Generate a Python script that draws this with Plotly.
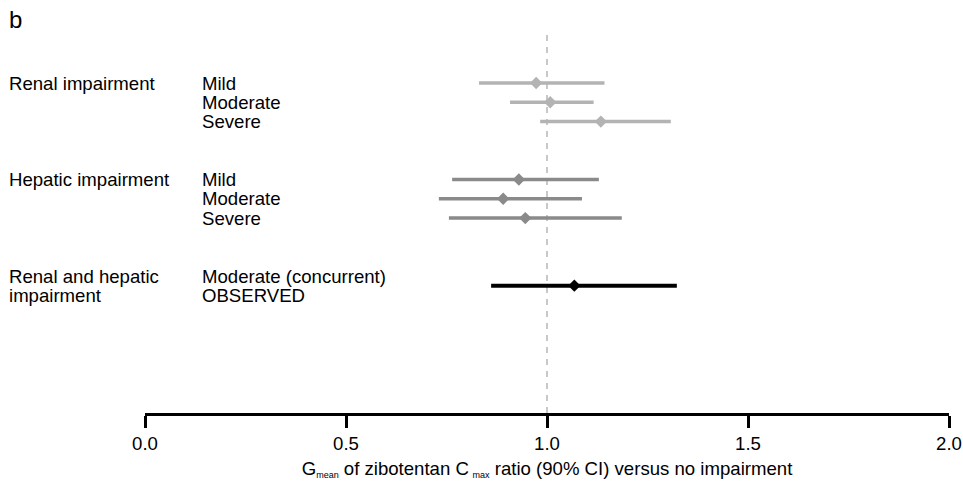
import plotly.graph_objects as go
import numpy as np

# ---- data ----
group_labels = ["Renal impairment", "Hepatic impairment", "Renal and hepatic|impairment"]
renal_rows = ["Mild", "Moderate", "Severe"]
hepatic_rows = ["Mild", "Moderate", "Severe"]
combined_rows = ["Moderate (concurrent)", "OBSERVED"]

renal_est = [0.973, 1.008, 1.134]
renal_lo = [0.831, 0.908, 0.983]
renal_hi = [1.143, 1.116, 1.308]

hepatic_est = [0.930, 0.891, 0.946]
hepatic_lo = [0.764, 0.731, 0.756]
hepatic_hi = [1.129, 1.087, 1.186]

combined_est = [1.068]
combined_lo = [0.861]
combined_hi = [1.323]

tick_vals = [0.0, 0.5, 1.0, 1.5, 2.0]
tick_text = ["0.0", "0.5", "1.0", "1.5", "2.0"]
reference_value = 1.0

# ---- layout constants ----
W, H = 963, 482
ML, MR, MT, MB = 145, 14, 35, 69
ROW_PX = 19.3
ROW0_PX = 83
plot_h = H - MT - MB
y_top = (MT - ROW0_PX) / ROW_PX
y_bot = (H - MB - ROW0_PX) / ROW_PX
FONT = "Liberation Sans, Arial, Helvetica, sans-serif"
FS = 18.6

colors = ["#b3b3b3", "#8a8a8a", "#000000"]
group_start = [0, 5, 10]

fig = go.Figure()

series = [
    (renal_est, renal_lo, renal_hi, [0, 1, 2]),
    (hepatic_est, hepatic_lo, hepatic_hi, [5, 6, 7]),
    (combined_est, combined_lo, combined_hi, [10.5]),
]
for (est, lo, hi, ys), c in zip(series, colors):
    est = np.array(est); lo = np.array(lo); hi = np.array(hi)
    fig.add_trace(go.Scatter(
        x=est, y=ys, mode="markers",
        marker=dict(symbol="diamond", size=9.5, color=c, line=dict(width=0)),
        error_x=dict(type="data", symmetric=False, array=hi - est,
                     arrayminus=est - lo, color=c,
                     thickness=3.5 if c != "#000000" else 4, width=0),
        showlegend=False, hoverinfo="skip",
    ))

# reference dashed line
fig.add_shape(type="line", xref="x", yref="paper", x0=reference_value, x1=reference_value,
              y0=1, y1=0, line=dict(color="#c8c8c8", width=2, dash="6px,6px"), layer="below")

def xp(px):
    return (px - ML) / (W - ML - MR)

annotations = []
sub_lists = [renal_rows, hepatic_rows, combined_rows]
for gi, (g, subs) in enumerate(zip(group_labels, sub_lists)):
    y0 = group_start[gi]
    for li, part in enumerate(g.split("|")):
        annotations.append(dict(text=part, xref="paper", yref="y", x=xp(7), y=y0 + li,
                                xanchor="left", yanchor="middle", showarrow=False,
                                font=dict(family=FONT, size=FS, color="black")))
    for si, s in enumerate(subs):
        annotations.append(dict(text=s, xref="paper", yref="y", x=xp(200), y=y0 + si,
                                xanchor="left", yanchor="middle", showarrow=False,
                                font=dict(family=FONT, size=FS, color="black")))

annotations.append(dict(text="b", xref="paper", yref="paper", x=xp(7),
                        y=(H - MB - 20) / plot_h,
                        xanchor="left", yanchor="middle", showarrow=False,
                        font=dict(family=FONT, size=24, color="black")))

title_text = ('G<sub><span style="font-size:9px">mean</span></sub> of zibotentan C'
              '<sub> <span style="font-size:9px">max</span></sub> ratio (90% CI) versus no impairment')

fig.update_layout(
    width=W, height=H, autosize=False,
    margin=dict(l=ML, r=MR, t=MT, b=MB, pad=0, autoexpand=False),
    paper_bgcolor="white", plot_bgcolor="white",
    showlegend=False,
    font=dict(family=FONT, size=FS, color="black"),
    annotations=annotations,
    xaxis=dict(range=[0, 2], tickvals=tick_vals, ticktext=tick_text,
               showline=True, linecolor="black", linewidth=2.5,
               ticks="outside", ticklen=12, tickwidth=2.5, tickcolor="black",
               showgrid=False, zeroline=False, automargin=False,
               tickfont=dict(family=FONT, size=FS, color="black"),
               title=dict(text=title_text,
                          font=dict(family=FONT, size=FS, color="black"), standoff=9)),
    yaxis=dict(range=[y_bot, y_top], visible=False, showgrid=False, zeroline=False,
               automargin=False),
)

fig.write_html("out.html", config={"displayModeBar": False},
               post_script="document.body.style.margin='0';document.body.style.overflow='hidden';")
